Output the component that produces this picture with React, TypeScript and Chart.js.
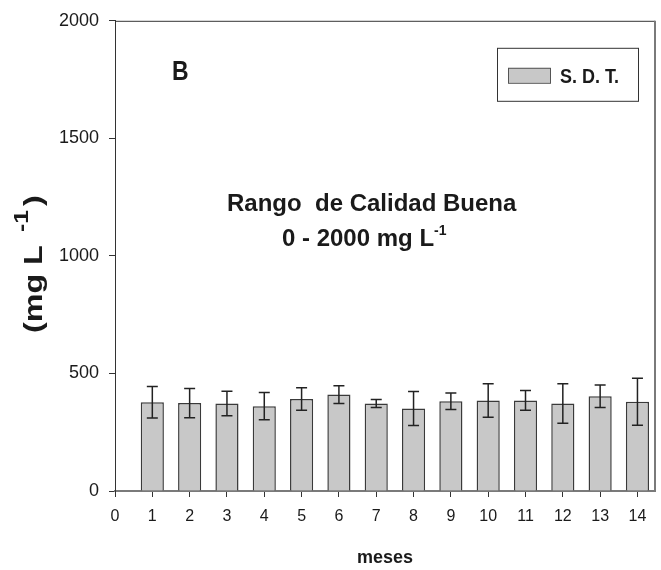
import React, { useEffect, useRef } from "react";
import { Chart, registerables } from "chart.js";

Chart.register(...registerables);

// ---- data ----
const months = [1, 2, 3, 4, 5, 6, 7, 8, 9, 10, 11, 12, 13, 14];
const sdtMeans = [378, 374, 372, 361, 391, 410, 372, 351, 382, 385, 385, 372, 403, 380];
const sdtErrors = [67, 62, 52, 58, 48, 38, 17, 72, 35, 71, 42, 84, 48, 100];
const xTickValues = [0, 1, 2, 3, 4, 5, 6, 7, 8, 9, 10, 11, 12, 13, 14];
const yTickValues = [0, 500, 1000, 1500, 2000];
const seriesLabel = "S. D. T.";
const panelLabel = "B";
const noteLine1 = "Rango  de Calidad Buena";
const noteLine2 = "0 - 2000 mg L";
const unitSup = "-1";
const xTitle = "meses";

const FONT = "'Liberation Sans', Arial, sans-serif";
const BAR_FILL = "#c8c8c8";
const BAR_EDGE = "#3a3a3a";
const TEXT = "#1a1a1a";

const errorBarPlugin = {
  id: "errorBars",
  afterDatasetsDraw(chart: any) {
    const meta = chart.getDatasetMeta(0);
    const y = chart.scales.y;
    const ctx = chart.ctx;
    ctx.save();
    ctx.strokeStyle = "#222";
    ctx.lineWidth = 1.5;
    meta.data.forEach((bar: any, i: number) => {
      const top = y.getPixelForValue(sdtMeans[i] + sdtErrors[i]);
      const bot = y.getPixelForValue(sdtMeans[i] - sdtErrors[i]);
      const cx = bar.x;
      const hw = 5.5;
      ctx.beginPath();
      ctx.moveTo(cx, top);
      ctx.lineTo(cx, bot);
      ctx.moveTo(cx - hw, top);
      ctx.lineTo(cx + hw, top);
      ctx.moveTo(cx - hw, bot);
      ctx.lineTo(cx + hw, bot);
      ctx.stroke();
    });
    ctx.restore();
  },
};

const framePlugin = {
  id: "frame",
  afterDraw(chart: any) {
    const { ctx, chartArea } = chart;
    ctx.save();
    ctx.strokeStyle = "#333";
    ctx.lineWidth = 1;
    ctx.beginPath();
    ctx.moveTo(chartArea.left, chartArea.top + 0.5);
    ctx.lineTo(chartArea.right, chartArea.top + 0.5);
    ctx.stroke();
    ctx.strokeStyle = "#7a7a7a";
    ctx.lineWidth = 2;
    ctx.beginPath();
    ctx.moveTo(chartArea.right, chartArea.top);
    ctx.lineTo(chartArea.right, chartArea.bottom);
    ctx.stroke();
    ctx.restore();
  },
};

const legendPlugin = {
  id: "legendBox",
  afterDraw(chart: any) {
    const { ctx, chartArea } = chart;
    const ds = chart.data.datasets[0];
    const bx = chartArea.right - 158;
    const by = chartArea.top + 27;
    const bw = 141;
    const bh = 53;
    ctx.save();
    ctx.strokeStyle = "#333";
    ctx.lineWidth = 1;
    ctx.strokeRect(bx + 0.5, by + 0.5, bw, bh);
    ctx.fillStyle = ds.backgroundColor;
    ctx.fillRect(bx + 11, by + 20, 42, 15);
    ctx.strokeStyle = "#555";
    ctx.strokeRect(bx + 11.5, by + 20.5, 42, 15);
    ctx.fillStyle = TEXT;
    ctx.font = `bold 18px ${FONT}`;
    ctx.textBaseline = "alphabetic";
    ctx.textAlign = "left";
    ctx.save();
    ctx.translate(bx + 63, by + 35);
    ctx.scale(1, 1.15);
    ctx.fillText(ds.label, 0, 0);
    ctx.restore();
    ctx.restore();
  },
};

const annotationPlugin = {
  id: "notes",
  afterDraw(chart: any) {
    const { ctx } = chart;
    ctx.save();
    ctx.fillStyle = TEXT;
    ctx.textBaseline = "alphabetic";
    ctx.textAlign = "left";
    // panel letter
    ctx.font = `bold 23px ${FONT}`;
    ctx.save();
    ctx.translate(172, 80);
    ctx.scale(1, 1.2);
    ctx.fillText(panelLabel, 0, 0);
    ctx.restore();
    // note
    ctx.font = `bold 24px ${FONT}`;
    ctx.fillText(noteLine1, 227, 211);
    ctx.fillText(noteLine2, 282, 246);
    const w2 = ctx.measureText(noteLine2).width;
    ctx.font = `bold 14px ${FONT}`;
    ctx.fillText(unitSup, 282 + w2, 235);
    // y axis title (rotated)
    ctx.translate(42, 333);
    ctx.rotate(-Math.PI / 2);
    ctx.scale(1.24, 1);
    ctx.font = `bold 26px ${FONT}`;
    ctx.fillText("(mg L", 0, 0);
    ctx.font = `bold 20px ${FONT}`;
    ctx.fillText(unitSup, (333 - 232) / 1.24, -14);
    ctx.font = `bold 26px ${FONT}`;
    ctx.fillText(")", (333 - 206) / 1.24, 0);
    ctx.restore();
  },
};

export default function App() {
  const ref = useRef<HTMLCanvasElement>(null);
  useEffect(() => {
    if (!ref.current) return;
    const chart = new Chart(ref.current, {
      type: "bar",
      data: {
        datasets: [
          {
            label: seriesLabel,
            data: months.map((m, i) => ({ x: m, y: sdtMeans[i] })),
            backgroundColor: BAR_FILL,
            borderColor: BAR_EDGE,
            borderWidth: 1.5,
            barPercentage: 0.62,
            categoryPercentage: 1,
          },
        ],
      },
      options: {
        animation: false,
        responsive: false,
        devicePixelRatio: 1,
        layout: { padding: { top: 20, right: 6, left: 0, bottom: 0 } },
        plugins: { legend: { display: false }, tooltip: { enabled: false } },
        scales: {
          x: {
            type: "linear",
            min: 0,
            max: 14.47,
            offset: false,
            afterBuildTicks: (s: any) => {
              s.ticks = xTickValues.map((v) => ({ value: v }));
            },
            afterFit: (s: any) => {
              s.height = 79;
            },
            grid: {
              display: true,
              offset: false,
              drawOnChartArea: false,
              drawTicks: true,
              tickLength: 6,
              color: "#333",
              lineWidth: 1,
            },
            border: { display: true, color: "#7a7a7a", width: 2 },
            ticks: {
              font: { family: FONT, size: 16 },
              color: TEXT,
              padding: 10,
              maxRotation: 0,
              autoSkip: false,
              callback: (v: any) => String(v),
            },
            title: {
              display: true,
              text: xTitle,
              font: { family: FONT, size: 18, weight: "bold" },
              color: TEXT,
              padding: { top: 0, bottom: 1 },
            },
          },
          y: {
            type: "linear",
            min: 0,
            max: 2000,
            afterBuildTicks: (s: any) => {
              s.ticks = yTickValues.map((v) => ({ value: v }));
            },
            afterFit: (s: any) => {
              s.width = 115;
            },
            grid: {
              display: true,
              drawOnChartArea: false,
              drawTicks: true,
              tickLength: 6,
              color: "#333",
              lineWidth: 1,
            },
            border: { display: true, color: "#333", width: 1 },
            ticks: {
              font: { family: FONT, size: 18 },
              color: TEXT,
              padding: 10,
              callback: (v: any) => String(v),
            },
          },
        },
      } as any,
      plugins: [framePlugin, errorBarPlugin, legendPlugin, annotationPlugin],
    });
    return () => chart.destroy();
  }, []);
  return (
    <div style={{ position: "fixed", left: 0, top: 0, width: 661, height: 570, background: "#fff" }}>
      <canvas ref={ref} width={661} height={570} style={{ width: 661, height: 570 }} />
    </div>
  );
}
